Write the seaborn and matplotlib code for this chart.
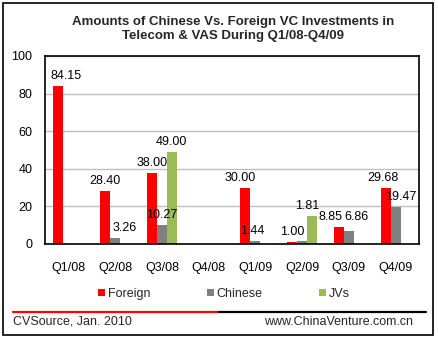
import matplotlib
matplotlib.use("Agg")
import matplotlib.pyplot as plt
import seaborn as sns
import pandas as pd
from matplotlib.patches import Rectangle, Patch
from matplotlib.lines import Line2D

quarters = ["Q1/08", "Q2/08", "Q3/08", "Q4/08", "Q1/09", "Q2/09", "Q3/09", "Q4/09"]
foreign = [84.15, 28.40, 38.00, 0, 30.00, 1.00, 8.85, 29.68]
chinese = [0, 3.26, 10.27, 0, 1.44, 1.81, 6.86, 19.47]
jvs = [0, 0, 49.00, 0, 0, 14.7, 0, 0]
series = ["Foreign", "Chinese", "JVs"]
foreign_labels = ["84.15", "28.40", "38.00", "", "30.00", "1.00", "8.85", "29.68"]
chinese_labels = ["", "3.26", "10.27", "", "1.44", "", "6.86", "19.47"]
jvs_labels = ["", "", "49.00", "", "", "1.81", "", ""]
colors = ["#FF0000", "#808080", "#9BBB59"]

df = pd.DataFrame({
    "quarter": quarters * 3,
    "series": [s for s in series for _ in quarters],
    "value": foreign + chinese + jvs,
})

sns.set_theme(style="white")
plt.rcParams["font.family"] = ["Liberation Sans", "DejaVu Sans"]

fig = plt.figure(figsize=(4.38, 3.40), dpi=100)
W, H = 438, 340
ax = fig.add_axes([45 / W, 1 - 244 / H, (419 - 45) / W, (244 - 56) / H])

sns.barplot(data=df, x="quarter", y="value", hue="series", hue_order=series,
            palette=colors, width=0.64, saturation=1, ax=ax, legend=False,
            errorbar=None)
for bars in ax.containers:
    for b in bars:
        b.set_edgecolor("none")

ax.set_ylim(0, 100)
ax.set_yticks([0, 20, 40, 60, 80, 100])
ax.yaxis.grid(True, color="#C0C0C0", linewidth=1)
ax.set_axisbelow(True)
for s in ax.spines.values():
    s.set_color("black")
    s.set_linewidth(1.2)
ax.set_xlabel("")
ax.set_ylabel("")
ax.tick_params(axis="y", length=0, pad=9, labelsize=9, colors="black")
ax.tick_params(axis="x", length=0, pad=13, labelsize=9, colors="black")

# label placement tweaks (pixels), mimicking the original's label layout
nudge = {
    (0, 0): (8, 0), (1, 1): (9.5, 0), (2, 5): (-4.5, 0),
    (0, 6): (-8, 0), (1, 6): (8, 3.7), (0, 7): (-2.5, 0), (1, 7): (5, 0),
    (0, 4): (-5, 0), (1, 4): (-3.5, 0),
}
label_sets = [foreign_labels, chinese_labels, jvs_labels]
for si, (cont, labs) in enumerate(zip(ax.containers, label_sets)):
    for qi, (bar, lab) in enumerate(zip(cont, labs)):
        if not lab:
            continue
        dx, dy = nudge.get((si, qi), (0, 0))
        ax.annotate(lab, (bar.get_x() + bar.get_width() / 2, bar.get_height()),
                    xytext=(dx, 4 + dy), textcoords="offset pixels",
                    ha="center", va="bottom", fontsize=9, color="black")

# title
fig.text(233 / W, 1 - 29 / H,
         "Amounts of Chinese Vs. Foreign VC Investments in\nTelecom & VAS During Q1/08-Q4/09",
         ha="center", va="center", fontsize=9.5, fontweight="bold", linespacing=1.2)

# legend
handles = [Patch(facecolor=c, edgecolor="none") for c in colors]
fig.legend(handles, series, loc="center", bbox_to_anchor=(224 / W, 1 - 294 / H),
           ncol=3, frameon=False, fontsize=9, handlelength=0.55, handleheight=0.55,
           handletextpad=0.25, columnspacing=4.5)

# footer line
fig.add_artist(Line2D([13 / W, 219 / W], [1 - 311.7 / H] * 2, color="#FF0000", linewidth=1.6,
                      transform=fig.transFigure))
fig.add_artist(Line2D([219 / W, 426 / W], [1 - 311.7 / H] * 2, color="black", linewidth=1.6,
                      transform=fig.transFigure))
fig.text(13 / W, 1 - 322 / H, "CVSource, Jan. 2010", ha="left", va="center", fontsize=9)
fig.text(413 / W, 1 - 322 / H, "www.ChinaVenture.com.cn", ha="right", va="center", fontsize=9)

# outer frame
fig.add_artist(Rectangle((3 / W, 1 - 335 / H), 430 / W, 332 / H, fill=False,
                         edgecolor="black", linewidth=1.2, transform=fig.transFigure))

fig.savefig("out.png", dpi=100)
